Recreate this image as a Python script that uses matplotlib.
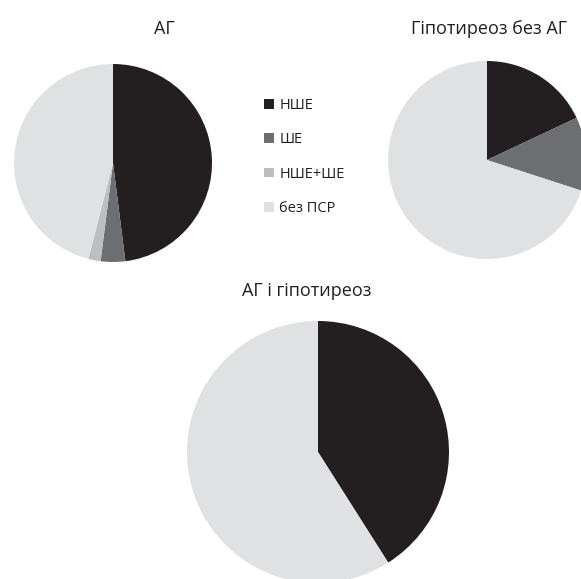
import matplotlib.pyplot as plt

plt.rcParams['font.family'] = ['Open Sans', 'DejaVu Sans']

# categories and colours
labels = ['НШЕ', 'ШЕ', 'НШЕ+ШЕ', 'без ПСР']
colors = ['#231f20', '#6d6e71', '#bcbec0', '#e0e1e3']

# share of each category, %
titles = ['АГ', 'Гіпотиреоз без АГ', 'АГ і гіпотиреоз']
ag = [48, 4, 2, 46]
hypo_no_ag = [18, 12, 0, 70]
ag_hypo = [41, 0, 0, 59]

W, H = 581, 579
fig = plt.figure(figsize=(W / 100, H / 100), dpi=100)
ax = fig.add_axes([0, 0, 1, 1])

# pie centres / radii in pixels (y from top), title positions
pies = [(ag, (113, 163), 99, (164, 29)),
        (hypo_no_ag, (487, 160), 99, (489, 29)),
        (ag_hypo, (318, 452), 131, (307, 291))]

wedges_first = None
for (vals, (cx, cy), r, (tx, ty)), title in zip(pies, titles):
    w, _ = ax.pie(vals, colors=colors, startangle=90, counterclock=False,
                  center=(cx, H - cy), radius=r,
                  wedgeprops=dict(linewidth=0))
    if wedges_first is None:
        wedges_first = w
    ax.text(tx, H - ty, title, ha='center', va='center', fontsize=13, color='#231f20')

ax.set_xlim(0, W)
ax.set_ylim(0, H)
ax.set_aspect('equal')
ax.axis('off')

leg = ax.legend(wedges_first, labels, loc='upper left',
                bbox_to_anchor=(251 / W, 1 - 85 / H), frameon=False,
                fontsize=10.5, handlelength=0.65, handleheight=0.65,
                handletextpad=0.4, labelspacing=1.32)
for t in leg.get_texts():
    t.set_color('#231f20')

plt.savefig('out.png', dpi=100)
